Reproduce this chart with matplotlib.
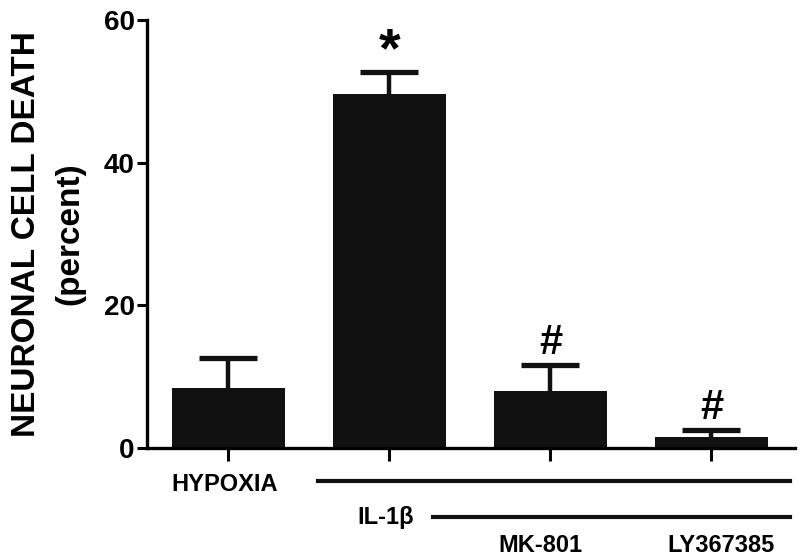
import numpy as np
import matplotlib
matplotlib.use("Agg")
import matplotlib.pyplot as plt
from matplotlib.transforms import blended_transform_factory

plt.rcParams['font.family'] = ['Liberation Sans', 'DejaVu Sans']

# data
groups = ["HYPOXIA", "IL-1\u03b2", "MK-801", "LY367385"]
death = [8.4, 49.6, 8.0, 1.6]
sem = [4.2, 3.1, 3.6, 0.9]
marks = ["", "*", "#", "#"]

fig = plt.figure(figsize=(8, 5.56), dpi=100)
ax = fig.add_axes([0.184, 0.194, 0.81, 0.77])

x = np.arange(len(groups))
ax.bar(x, death, width=0.70, color="#111111", zorder=2)
# symmetric bars drawn under the columns, so only the upper half shows
ax.errorbar(x, death, yerr=sem, fmt="none",
            ecolor="#111111", elinewidth=3.2, capsize=21, capthick=3.8, zorder=1)

for xi, v, e, m in zip(x, death, sem, marks):
    if m == "*":
        ax.text(xi, v + e + 2.8, m, ha="center", va="center",
                fontsize=40, fontweight="bold")
    elif m:
        ax.text(xi, v + e + 3.1, m, ha="center", va="center",
                fontsize=30, fontweight="bold")

ax.set_xlim(-0.503, 3.52)
ax.set_ylim(0, 60)
ax.set_yticks([0, 20, 40, 60])
ax.set_xticks(x)
ax.set_xticklabels([])
ax.tick_params(axis="y", length=7, width=2.2, labelsize=20, pad=2)
ax.tick_params(axis="x", length=9, width=2.2)
for lab in ax.get_yticklabels():
    lab.set_fontweight("bold")
for s in ["top", "right"]:
    ax.spines[s].set_visible(False)
for s in ["left", "bottom"]:
    ax.spines[s].set_linewidth(2.4)

ax.set_ylabel("NEURONAL CELL DEATH\n(percent)", fontsize=24, linespacing=1.52,
              fontweight="bold", labelpad=13)

# treatment labels and bars under the axis
tr = blended_transform_factory(ax.transData, ax.transAxes)
kw = dict(transform=tr, ha="center", va="center", fontsize=17, fontweight="bold")
ax.text(-0.02, -0.084, groups[0], **kw)
ax.plot([0.56, 3.49], [-0.077, -0.077], transform=tr, color="#111111", lw=3,
        clip_on=False)
ax.text(0.98, -0.163, groups[1], **kw)
ax.plot([1.27, 3.49], [-0.161, -0.161], transform=tr, color="#111111", lw=3,
        clip_on=False)
ax.text(1.94, -0.227, groups[2], **kw)
ax.text(3.06, -0.227, groups[3], **kw)

fig.savefig("out.png", dpi=100)
